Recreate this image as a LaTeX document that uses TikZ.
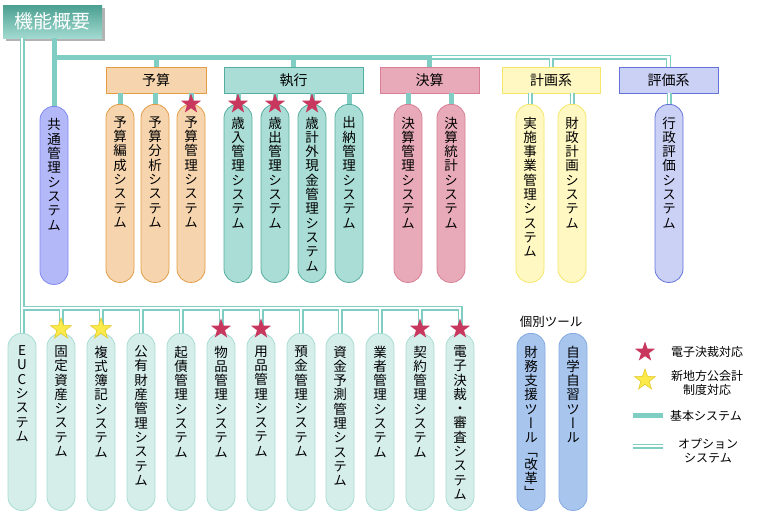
\documentclass[tikz,border=0pt]{standalone}
\usepackage{fontspec}
\setmainfont{Noto Sans CJK JP}
\newfontfamily\vjp[RawFeature=+vert]{Noto Sans CJK JP}
\usetikzlibrary{shapes.geometric,shadows}
\definecolor{tl}{HTML}{80CEC3}
\definecolor{orF}{HTML}{F6D5AE}\definecolor{orD}{HTML}{E39B45}
\definecolor{tgF}{HTML}{A9DDD5}\definecolor{tgD}{HTML}{55AD9F}
\definecolor{pkF}{HTML}{E8AAB8}\definecolor{pkD}{HTML}{D77F95}
\definecolor{ylF}{HTML}{FFF8C2}\definecolor{ylD}{HTML}{F5E66A}
\definecolor{bvF}{HTML}{CBD0F5}\definecolor{bvD}{HTML}{6473DA}
\definecolor{blF}{HTML}{B3B8F8}\definecolor{blD}{HTML}{8189F0}
\definecolor{ltF}{HTML}{D6EEEA}\definecolor{ltD}{HTML}{A6DCD3}
\definecolor{tbF}{HTML}{A8C5EE}\definecolor{tbD}{HTML}{85AAE2}
\definecolor{stR}{HTML}{C8375E}
\definecolor{stY}{HTML}{FAEA4A}\definecolor{stYD}{HTML}{E2C41E}
\definecolor{ttop}{HTML}{4A9F90}\definecolor{tbot}{HTML}{A2DAD0}
\ExplSyntaxOn
\NewDocumentCommand\vstack{m}{
  \bool_set_true:N \l_tmpa_bool
  \tl_map_inline:nn {#1}{
    \bool_if:NTF \l_tmpa_bool {\bool_set_false:N \l_tmpa_bool}{\\}
    ##1
  }
}
\ExplSyntaxOff
\tikzset{
  pillbox/.style={rectangle, rounded corners=13.5pt, minimum width=28pt, inner sep=0pt, line width=0.8pt},
  vtxt/.style={font={\vjp\fontsize{13.5}{14.3}\selectfont}, align=center, inner sep=0pt, anchor=north},
  catbox/.style={rectangle, minimum height=26pt, inner sep=0pt, line width=0.9pt, font=\fontsize{14}{16}\selectfont},
  titlebox/.style={rectangle, minimum width=99pt, minimum height=33pt, inner sep=0pt, top color=ttop, bottom color=tbot, draw=none, text=white, font=\fontsize{19}{22}\selectfont, drop shadow={shadow xshift=3pt, shadow yshift=-3pt, fill=black, opacity=0.3}},
  base/.style={draw=tl, line width=5pt},
  optout/.style={draw=tl, line width=5pt},
  optin/.style={draw=white, line width=2.2pt},
  rstar/.style={star, star points=5, star point ratio=2.5, minimum size=21pt, inner sep=0pt, fill=stR, draw=none},
  ystar/.style={star, star points=5, star point ratio=2.5, minimum size=22pt, inner sep=0pt, fill=stY, draw=stYD, line width=0.5pt},
  lgtxt/.style={font=\fontsize{12}{14.5}\selectfont, align=center, inner sep=0pt}
}
\newcommand\mkpill[6]{%
  \node[pillbox,#5,minimum height=#4pt,anchor=north] (#1) at (#2,#3) {};
  \node[vtxt] (#1-t) at ([yshift=-12.5pt]#1.north) {\vstack{#6}};
}
\begin{document}
\begin{tikzpicture}[x=1pt,y=-1pt]
\useasboundingbox (0,0) rectangle (765,512);
% title
\node[titlebox] (title) at (52.5,21.5) {機能概要};
% category boxes
\node[catbox, fill=orF, draw=orD, minimum width=100pt] (yosan) at (156,80) {予算};
\node[catbox, fill=tgF, draw=tgD, minimum width=139pt] (shikko) at (293.5,80) {執行};
\node[catbox, fill=pkF, draw=pkD, minimum width=99pt] (kessan) at (429.5,80) {決算};
\node[catbox, fill=ylF, draw=ylD, minimum width=98pt] (keikaku) at (551,80) {計画系};
\node[catbox, fill=bvF, draw=bvD, minimum width=99pt] (hyoka) at (668.5,80) {評価系};
% top pills
\mkpill{kyotsu}{54}{106}{178}{fill=blF,draw=blD}{共通管理システム}
\mkpill{hensei}{120}{104}{178}{fill=orF,draw=orD}{予算編成システム}
\mkpill{bunseki}{155}{104}{178}{fill=orF,draw=orD}{予算分析システム}
\mkpill{yokan}{191}{104}{178}{fill=orF,draw=orD}{予算管理システム}
\mkpill{sainyu}{238}{104}{178}{fill=tgF,draw=tgD}{歳入管理システム}
\mkpill{saishutsu}{275}{104}{178}{fill=tgF,draw=tgD}{歳出管理システム}
\mkpill{saikei}{312}{104}{178}{fill=tgF,draw=tgD}{歳計外現金管理システム}
\mkpill{suito}{349}{104}{178}{fill=tgF,draw=tgD}{出納管理システム}
\mkpill{kkanri}{408}{104}{178}{fill=pkF,draw=pkD}{決算管理システム}
\mkpill{ktokei}{451}{104}{178}{fill=pkF,draw=pkD}{決算統計システム}
\mkpill{jisshi}{530}{104}{178}{fill=ylF,draw=ylD}{実施事業管理システム}
\mkpill{zaisei}{572}{104}{178}{fill=ylF,draw=ylD}{財政計画システム}
\mkpill{gyosei}{669}{104}{178}{fill=bvF,draw=bvD}{行政評価システム}
% bottom pills
\mkpill{euc}{22}{333}{177}{fill=ltF,draw=ltD}{EUCシステム}
\mkpill{kotei}{61}{333}{177}{fill=ltF,draw=ltD}{固定資産システム}
\mkpill{fukushiki}{101}{333}{177}{fill=ltF,draw=ltD}{複式簿記システム}
\mkpill{kouyu}{141}{333}{177}{fill=ltF,draw=ltD}{公有財産管理システム}
\mkpill{kisai}{181}{333}{177}{fill=ltF,draw=ltD}{起債管理システム}
\mkpill{buppin}{221}{333}{177}{fill=ltF,draw=ltD}{物品管理システム}
\mkpill{yohin}{261}{333}{177}{fill=ltF,draw=ltD}{用品管理システム}
\mkpill{yokin}{301}{333}{177}{fill=ltF,draw=ltD}{預金管理システム}
\mkpill{shikin}{340}{333}{177}{fill=ltF,draw=ltD}{資金予測管理システム}
\mkpill{gyosha}{380}{333}{177}{fill=ltF,draw=ltD}{業者管理システム}
\mkpill{keiyaku}{420}{333}{177}{fill=ltF,draw=ltD}{契約管理システム}
\mkpill{denshi}{460}{333}{177}{fill=ltF,draw=ltD}{電子決裁・審査システム}
% tools
\node[lgtxt, font=\fontsize{12.5}{15}\selectfont] (kobetsu) at (551,322) {個別ツール};
\node[pillbox, fill=tbF, draw=tbD, minimum height=177pt, anchor=north] (kaikaku) at (531,333) {};
\node[vtxt] (kaikaku-t) at ([yshift=-12.5pt]kaikaku.north) {財\\務\\支\\援\\ツ\\ー\\ル\\[-1pt]「\\[-1pt]改\\革\\[-1pt]」};
\mkpill{jigaku}{573}{333}{177}{fill=tbF,draw=tbD}{自学自習ツール}
% coordinates
\coordinate (mainL) at (54,57);
\coordinate (botL) at (22,308);
\coordinate (lgA1) at (633,415); \coordinate (lgA2) at (663,415);
\coordinate (lgB1) at (633,446); \coordinate (lgB2) at (663,446);
% option (double) lines, two passes
\newcommand\optpaths[1]{%
  \draw[#1] (kessan.north |- mainL) -- (hyoka.north |- mainL) -- (hyoka.north);
  \draw[#1] (keikaku.north |- mainL) -- (keikaku.north);
  \draw[#1] (jisshi.north |- keikaku.south) -- (jisshi.north);
  \draw[#1] (zaisei.north |- keikaku.south) -- (zaisei.north);
  \draw[#1] (gyosei.north |- hyoka.south) -- (gyosei.north);
  \draw[#1] (euc.north |- title.south) -- (euc.north);
  \draw[#1] (botL) -- (denshi.north |- botL) -- (denshi.north);
  \foreach \n in {kotei,fukushiki,kouyu,kisai,buppin,yohin,yokin,shikin,gyosha,keiyaku}
    {\draw[#1] (\n.north |- botL) -- (\n.north);}
  \draw[#1] (lgB1) -- (lgB2);
}
\optpaths{optout}
\optpaths{optin}
% basic (thick) lines
\draw[base] (kyotsu.north |- title.south) -- (kyotsu.north);
\draw[base, line cap=rect] (mainL) -- (kessan.north |- mainL);
\draw[base] (yosan.north |- mainL) -- (yosan.north);
\draw[base] (shikko.north |- mainL) -- (shikko.north);
\draw[base] (kessan.north |- mainL) -- (kessan.north);
\foreach \n in {hensei,bunseki,yokan}{\draw[base] (\n.north |- yosan.south) -- (\n.north);}
\foreach \n in {sainyu,saishutsu,saikei,suito}{\draw[base] (\n.north |- shikko.south) -- (\n.north);}
\foreach \n in {kkanri,ktokei}{\draw[base] (\n.north |- kessan.south) -- (\n.north);}
\draw[base] (lgA1) -- (lgA2);
% stars
\node[rstar] (st1) at (yokan.north) {};
\node[rstar] (st2) at (sainyu.north) {};
\node[rstar] (st3) at (saishutsu.north) {};
\node[rstar] (st4) at (saikei.north) {};
\node[ystar] (st5) at ([yshift=4pt]kotei.north) {};
\node[ystar] (st6) at ([yshift=4pt]fukushiki.north) {};
\node[rstar] (st7) at ([yshift=4pt]buppin.north) {};
\node[rstar] (st8) at ([yshift=4pt]yohin.north) {};
\node[rstar] (st9) at ([yshift=4pt]keiyaku.north) {};
\node[rstar] (st10) at ([yshift=4pt]denshi.north) {};
% legend
\node[rstar] (lgR) at (645,352) {};
\node[lgtxt] (lgRt) at (707,352) {電子決裁対応};
\node[ystar] (lgY) at (645,380) {};
\node[lgtxt] (lgYt) at (707,383) {新地方公会計\\制度対応};
\node[lgtxt] (lgAt) at (706,416) {基本システム};
\node[lgtxt] (lgBt) at (708,451) {オプション\\システム};
\end{tikzpicture}
\end{document}
